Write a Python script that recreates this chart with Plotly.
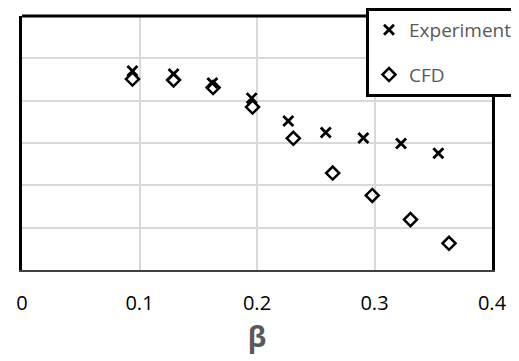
import plotly.graph_objects as go

# Data
exp_beta = [0.094, 0.129, 0.162, 0.1955, 0.2266, 0.2585, 0.2905, 0.3226, 0.3543]
exp_val = [4.70, 4.63, 4.42, 4.06, 3.52, 3.25, 3.12, 2.99, 2.76]
cfd_beta = [0.094, 0.129, 0.1626, 0.1962, 0.2309, 0.2644, 0.2981, 0.3306, 0.3634]
cfd_val = [4.51, 4.49, 4.31, 3.85, 3.11, 2.29, 1.76, 1.19, 0.63]
x_ticks = [0, 0.1, 0.2, 0.3, 0.4]
x_tick_labels = ["0", "0.1", "0.2", "0.3", "0.4"]

FONT = "Open Sans"

fig = go.Figure()
fig.add_trace(go.Scatter(
    x=exp_beta, y=exp_val, mode="markers", name="Experiment", legendgroup="a",
    marker=dict(symbol="x-thin", size=10, color="black",
                line=dict(color="black", width=2.8)),
))
fig.add_trace(go.Scatter(
    x=cfd_beta, y=cfd_val, mode="markers", name="CFD", legendgroup="b",
    marker=dict(symbol="diamond-open", size=10, color="black",
                line=dict(color="black", width=2.5)),
))

fig.update_layout(
    width=511, height=353,
    margin=dict(l=14, r=27, t=8, b=91, autoexpand=False),
    paper_bgcolor="white", plot_bgcolor="white",
    font=dict(family=FONT, color="black"),
    legend=dict(
        x=(358 - 14) / 470, xanchor="left",
        y=1.0315, yanchor="top",
        bgcolor="white", bordercolor="black", borderwidth=3,
        font=dict(family=FONT, size=19, color="#595959"),
        tracegroupgap=17, entrywidth=150,
    ),
    xaxis=dict(
        range=[0, 0.4], tickvals=x_ticks, ticktext=x_tick_labels,
        showgrid=True, gridcolor="#d9d9d9", gridwidth=1.5,
        zeroline=False, showline=True, linecolor="#404040", linewidth=2,
        ticks="outside", ticklen=14, tickcolor="rgba(0,0,0,0)",
        tickfont=dict(family=FONT, size=20, color="black"),
        title=dict(text="<b>β</b>", font=dict(family=FONT, size=28, color="#595959"),
                   standoff=12),
    ),
    yaxis=dict(
        range=[0, 6], dtick=1, showticklabels=False,
        showgrid=True, gridcolor="#d9d9d9", gridwidth=1.5,
        zeroline=False, showline=True, linecolor="black", linewidth=3, mirror=True,
    ),
    shapes=[dict(type="line", xref="paper", yref="paper", x0=0, x1=1, y0=1, y1=1,
                 line=dict(color="black", width=3), layer="above")],
)

fig.write_html("out.html")
